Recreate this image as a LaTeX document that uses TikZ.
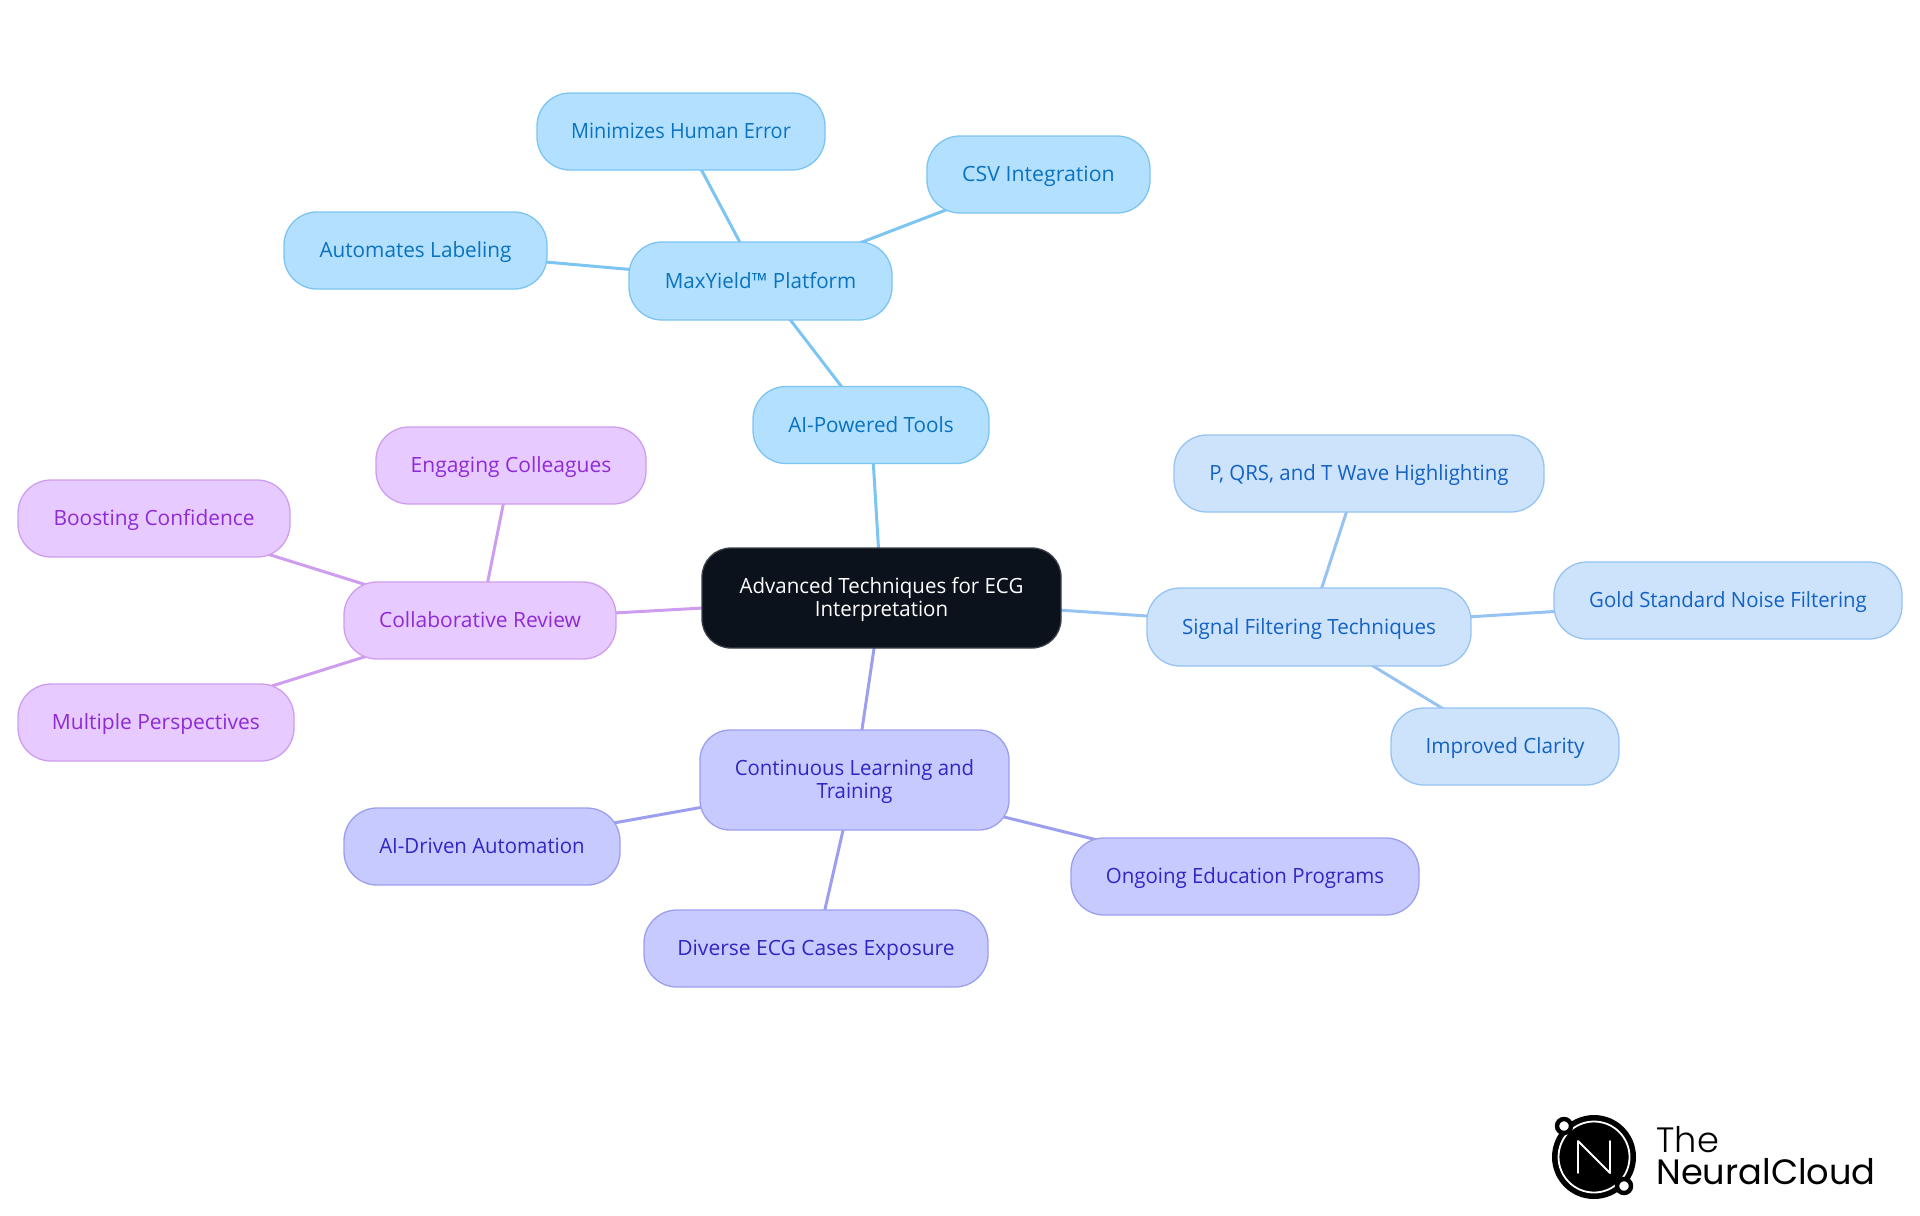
\documentclass[tikz,border=0pt]{standalone}
\usepackage{fontspec}
\usetikzlibrary{backgrounds}
\setmainfont{Open Sans}
\newfontfamily\logolight{Poppins Light}
\newfontfamily\logoreg{Poppins}
\definecolor{sky}{HTML}{B3E0FF}\definecolor{skyline}{HTML}{7CC4F2}\definecolor{skytext}{HTML}{0A72BF}
\definecolor{pale}{HTML}{CCE3FB}\definecolor{paleline}{HTML}{97C3F2}\definecolor{paletext}{HTML}{1462C4}
\definecolor{vio}{HTML}{C7CAFF}\definecolor{violine}{HTML}{9C9FEF}\definecolor{viotext}{HTML}{3325C4}
\definecolor{lil}{HTML}{E7CAFF}\definecolor{lilline}{HTML}{CE9DF0}\definecolor{liltext}{HTML}{8E2BD6}
\definecolor{ink}{HTML}{0B121C}
\tikzset{
 base/.style={draw,line width=0.65pt,rounded corners=16.5pt,inner sep=0pt,align=center,text height=8pt,text depth=1pt},
 twolines/.style={text height=19.65pt},
 st/.style={font=\fontsize{10.5}{11.65}\selectfont\addfontfeature{FakeStretch=#1}},
 skynode/.style={base,fill=sky,draw=skyline,text=skytext},
 palenode/.style={base,fill=pale,draw=paleline,text=paletext},
 vionode/.style={base,fill=vio,draw=violine,text=viotext},
 lilnode/.style={base,fill=lil,draw=lilline,text=liltext},
 rootnode/.style={base,rounded corners=14.5pt,fill=ink,draw=ink!80!white,text=white},
 sz/.style n args={2}{minimum width=#1*0.5pt,minimum height=#2*0.5pt},
 skylink/.style={draw=skyline,line width=1.5pt},
 palelink/.style={draw=paleline,line width=1.5pt},
 violink/.style={draw=violine,line width=1.5pt},
 lillink/.style={draw=lilline,line width=1.5pt},
}
\begin{document}
\begin{tikzpicture}[x=0.5pt,y=-0.5pt]
\useasboundingbox (0,0) rectangle (1920,1215);
\node[rootnode,twolines,st=0.975,sz={359}{100}] (root) at (881.5,598) {Advanced Techniques for ECG\\Interpretation};
\node[skynode,st=0.985,sz={236}{77}] (ai) at (871,425) {AI-Powered Tools};
\node[skynode,st=0.98,sz={263}{78}] (max) at (760.5,281) {MaxYield™ Platform};
\node[skynode,st=0.947,sz={288}{77}] (mini) at (681,131.5) {Minimizes Human Error};
\node[skynode,st=1.015,sz={223}{77}] (csv) at (1038.5,174.5) {CSV Integration};
\node[skynode,st=0.987,sz={263}{77}] (auto) at (415.5,250.5) {Automates Labeling};
\node[lilnode,st=1,sz={272}{77}] (collab) at (480,620.5) {Collaborative Review};
\node[lilnode,st=1,sz={270}{77}] (eng) at (511,465.5) {Engaging Colleagues};
\node[lilnode,st=0.994,sz={272}{77}] (boost) at (154,518.5) {Boosting Confidence};
\node[lilnode,st=1,sz={276}{77}] (mult) at (156,722.5) {Multiple Perspectives};
\node[palenode,st=0.981,sz={324}{78}] (sig) at (1309,627) {Signal Filtering Techniques};
\node[palenode,st=0.972,sz={370}{77}] (pqrs) at (1359,473.5) {P, QRS, and T Wave Highlighting};
\node[palenode,st=0.97,sz={348}{77}] (gold) at (1728,600.5) {Gold Standard Noise Filtering};
\node[palenode,st=0.985,sz={228}{77}] (clar) at (1505,746.5) {Improved Clarity};
\node[vionode,twolines,st=0.97,rounded corners=15pt,sz={309}{100}] (cont) at (854.5,780) {Continuous Learning and\\Training};
\node[vionode,st=0.971,sz={276}{77}] (aid) at (482,846.5) {AI-Driven Automation};
\node[vionode,st=1,sz={344}{77}] (div) at (816,948.5) {Diverse ECG Cases Exposure};
\node[vionode,st=0.974,sz={348}{77}] (ong) at (1245,876.5) {Ongoing Education Programs};
\begin{scope}[on background layer]
\draw[skylink] (root.center) -- (ai.center);
\draw[skylink] (ai.center) -- (max.center);
\draw[skylink] (max.center) -- (mini.center);
\draw[skylink] (max.center) -- (csv.center);
\draw[skylink] (max.center) -- (auto.center);
\draw[lillink] (root.center) -- (collab.center);
\draw[lillink] (collab.center) -- (eng.center);
\draw[lillink] (collab.center) -- (boost.center);
\draw[lillink] (collab.center) -- (mult.center);
\draw[palelink] (root.center) -- (sig.center);
\draw[palelink] (sig.center) -- (pqrs.center);
\draw[palelink] (sig.center) -- (gold.center);
\draw[palelink] (sig.center) -- (clar.center);
\draw[violink] (root.center) -- (cont.center);
\draw[violink] (cont.center) -- (aid.center);
\draw[violink] (cont.center) -- (div.center);
\draw[violink] (cont.center) -- (ong.center);
\end{scope}
% logo
\fill[black] (1594,1157) circle[radius=42];
\draw[white,line width=0.9pt] (1594,1157) circle[radius=35.5];
\draw[white,line width=0.9pt,line join=round,line cap=round] (1578,1173) -- (1578,1141) -- (1610,1173) -- (1610,1141);
\draw[black,fill=white,line width=2.2pt] (1564,1126) circle[radius=7];
\draw[black,fill=white,line width=2.2pt] (1624,1186) circle[radius=7];
\node[anchor=base west,inner sep=0pt,font=\logolight\fontsize{17.6}{17.6}\selectfont] (the) at (1656,1152) {The};
\node[anchor=base west,inner sep=0pt,font=\logoreg\fontsize{17.6}{17.6}\selectfont] (nc) at (1656,1184) {NeuralCloud};
\end{tikzpicture}
\end{document}
